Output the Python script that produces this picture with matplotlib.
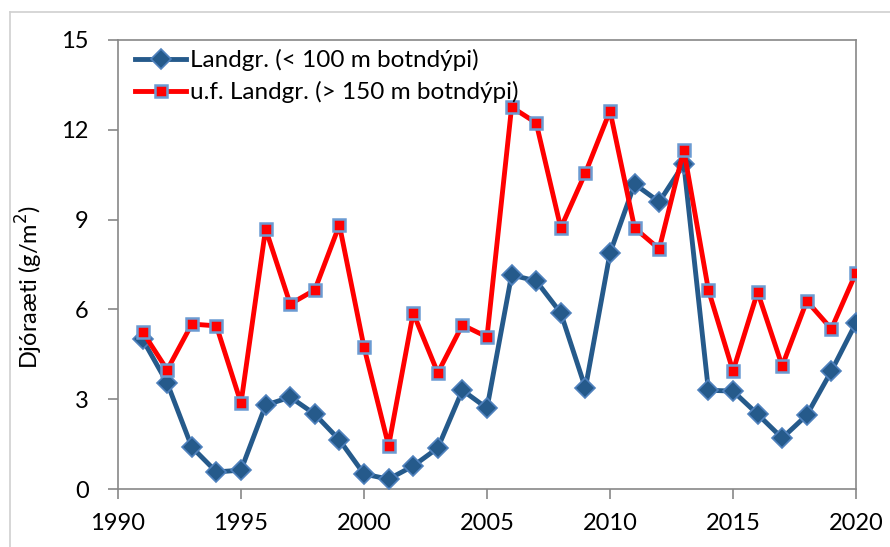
import matplotlib
matplotlib.use("Agg")
import matplotlib.pyplot as plt
from matplotlib.lines import Line2D

plt.rcParams.update({
    "font.family": ["Lato", "DejaVu Sans"],
    "font.size": 17,
})

years = list(range(1991, 2021))
landgr = [5.0, 3.54, 1.4, 0.57, 0.63, 2.8, 3.07, 2.5, 1.64, 0.5,
          0.33, 0.77, 1.37, 3.3, 2.7, 7.15, 6.95, 5.88, 3.37, 7.88,
          10.19, 9.59, 10.86, 3.3, 3.27, 2.5, 1.7, 2.47, 3.94, 5.55]
uf_landgr = [5.25, 3.98, 5.51, 5.45, 2.87, 8.69, 6.18, 6.65, 8.82, 4.74,
             1.44, 5.88, 3.88, 5.48, 5.08, 12.76, 12.23, 8.72, 10.56, 12.63,
             8.72, 8.02, 11.33, 6.65, 3.94, 6.58, 4.11, 6.28, 5.35, 7.22]
xticks = [1990, 1995, 2000, 2005, 2010, 2015, 2020]
yticks = [0, 3, 6, 9, 12, 15]

fig = plt.figure(figsize=(8.9, 5.47), dpi=100)
ax = fig.add_axes([118/890, 1 - 489/547, 738/890, 449/547])

# outer chart border (light gray, only top and left visible)
fig.add_artist(Line2D([10/890, 1.0], [1 - 12/547, 1 - 12/547],
                      transform=fig.transFigure, color="#d0d0d0", lw=1.2))
fig.add_artist(Line2D([10/890, 10/890], [0, 1 - 12/547],
                      transform=fig.transFigure, color="#d0d0d0", lw=1.2))

ax.plot(years, landgr, color="#255A8B", lw=3.5, marker="D", ms=10,
        mfc="#255A8B", mec="#4F81BD", mew=1.2,
        label="Landgr. (< 100 m botndýpi)", zorder=3)
ax.plot(years, uf_landgr, color="#FF0000", lw=3.5, marker="s", ms=9,
        mfc="#FF0000", mec="#6B9BD2", mew=1.8,
        label="u.f. Landgr. (> 150 m botndýpi)", zorder=4)

ax.set_xlim(1990, 2020)
ax.set_ylim(0, 15)
ax.set_xticks(xticks)
ax.set_yticks(yticks)
for s in ax.spines.values():
    s.set_color("#888888")
    s.set_linewidth(1.2)
ax.tick_params(axis="both", color="#888888", width=1.2, length=7,
               direction="out", labelsize=17)
ax.tick_params(axis="y", pad=14)
ax.tick_params(axis="x", pad=10)
ax.set_ylabel("Djóraæti (g/m$^2$)", fontsize=17)
ax.yaxis.set_label_coords(-0.099, 0.45)

ax.legend(loc="upper left", frameon=False, fontsize=17.5, handlelength=2.1,
          handletextpad=0.16, borderpad=0, borderaxespad=0,
          labelspacing=0.42, bbox_to_anchor=(17/738, 1 - 9/449))

fig.savefig("out.png", dpi=100)
